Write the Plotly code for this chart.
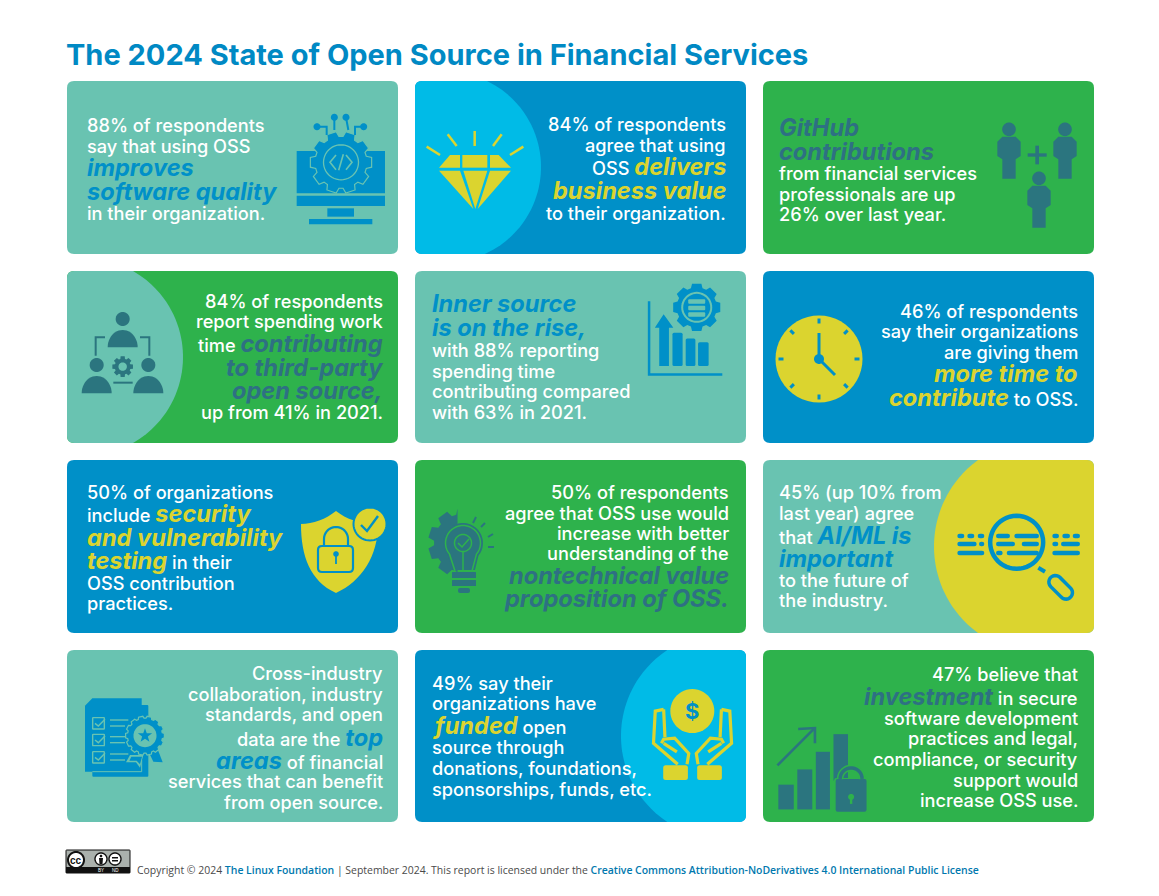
import numpy as np
import plotly.graph_objects as go

W, H = 1159, 896

# ---------- colours ----------
TEAL = "#69C3B1"; BLUE = "#0090C8"; SKY = "#00BBE7"; GREEN = "#2EB24C"
YELLOW = "#DBD42F"; DARK = "#2B757F"; DARKTXT = "#2E7083"; TITLEBLUE = "#0089C4"

# ---------- text ----------
TITLE = "The 2024 State of Open Source in Financial Services"
FOOT_A = "Copyright © 2024 "
FOOT_B = "The Linux Foundation"
FOOT_C = " | September 2024. This report is licensed under the "
FOOT_D = "Creative Commons Attribution-NoDerivatives 4.0 International Public License"

# *...* marks the large bold-italic emphasis on a line
CARD_TEXTS = [
    ["88% of respondents", "say that using OSS", "*improves*", "*software quality*", "in their organization."],
    ["84% of respondents", "agree that using", "OSS *delivers*", "*business value*", "to their organization."],
    ["*GitHub*", "*contributions*", "from financial services", "professionals are up", "26% over last year."],
    ["84% of respondents", "report spending work", "time *contributing*", "*to third-party*", "*open source,*", "up from 41% in 2021."],
    ["*Inner source*", "*is on the rise,*", "with 88% reporting", "spending time", "contributing compared", "with 63% in 2021."],
    ["46% of respondents", "say their organizations", "are giving them", "*more time to*", "*contribute* to OSS."],
    ["50% of organizations", "include *security*", "*and vulnerability*", "*testing* in their", "OSS contribution", "practices."],
    ["50% of respondents", "agree that OSS use would", "increase with better", "understanding of the", "*nontechnical value*", "*proposition of OSS.*"],
    ["45% (up 10% from", "last year) agree", "that *AI/ML is*", "*important*", "to the future of", "the industry."],
    ["Cross-industry", "collaboration, industry", "standards, and open", "data are the *top*", "*areas* of financial", "services that can benefit", "from open source."],
    ["49% say their", "organizations have", "*funded* open", "source through", "donations, foundations,", "sponsorships, funds, etc."],
    ["47% believe that", "*investment* in secure", "software development", "practices and legal,", "compliance, or security", "support would", "increase OSS use."],
]

# ---------- layout (page pixels) ----------
COL_X = [(67, 398), (415, 746), (763, 1094)]
ROW_Y = [(81, 254), (271, 443), (460, 633), (650, 822)]
CARD_BG = [TEAL, BLUE, GREEN, GREEN, TEAL, BLUE, BLUE, GREEN, TEAL, TEAL, BLUE, GREEN]
CARD_EM = [BLUE, YELLOW, DARKTXT, DARKTXT, BLUE, YELLOW, YELLOW, DARKTXT, BLUE, BLUE, YELLOW, DARKTXT]
CARD_ANCHOR = ["left", "right", "left", "right", "left", "right", "left", "right", "left", "right", "left", "right"]
CARD_TX = [86, 726.5, 778, 383.5, 431, 1078.5, 86, 729.5, 778, 383.5, 431, 1078.5]
CARD_LINE_Y = [
    [125, 146, 167, 191, 213], [124, 145, 166, 190, 213], [127, 151, 173, 194, 214],
    [301, 321, 343, 367, 390, 412], [303, 327, 350, 371, 391, 412], [311, 331, 352, 373, 397],
    [492, 513, 537, 560, 583, 603], [492, 513, 533, 553, 575, 598], [492, 513, 535, 558, 580, 600],
    [673, 694, 714, 737, 760, 781, 802], [683, 703, 725, 747, 768, 789], [674, 696, 718, 738, 759, 780, 800],
]
BODY_FONT = "Inter"
BODY_SIZE = 18.2
EM_SIZE = 23.6

shapes = []; annotations = []


def add_path(d, fill=None, line=None, lw=0):
    s = dict(type="path", path=d, xref="x", yref="y", layer="above",
             line=dict(width=lw, color=line if line else "rgba(0,0,0,0)"))
    s["fillcolor"] = fill if fill else "rgba(0,0,0,0)"
    shapes.append(s)


def poly(pts, fill=None, line=None, lw=0, close=True):
    d = "M" + " L".join(f"{x:.2f},{y:.2f}" for x, y in pts) + (" Z" if close else "")
    add_path(d, fill, line, lw)


def rrect(x0, y0, x1, y1, r, fill=None, line=None, lw=0):
    r = min(r, (x1 - x0) / 2, (y1 - y0) / 2)
    d = (f"M{x0+r},{y0} L{x1-r},{y0} Q{x1},{y0} {x1},{y0+r} L{x1},{y1-r} Q{x1},{y1} {x1-r},{y1} "
         f"L{x0+r},{y1} Q{x0},{y1} {x0},{y1-r} L{x0},{y0+r} Q{x0},{y0} {x0+r},{y0} Z")
    add_path(d, fill, line, lw)


def ell(cx, cy, rx, ry=None, fill=None, line=None, lw=0):
    ry = rx if ry is None else ry
    t = np.linspace(0, 2 * np.pi, 49)[:-1]
    poly(list(zip(cx + rx * np.cos(t), cy + ry * np.sin(t))), fill, line, lw)


def seg(pts, color, lw):
    poly(pts, None, color, lw, close=False)


def gear(cx, cy, ro, ri, n, fill=None, line=None, lw=0, a0=0.0, a1=2 * np.pi, phase=0.0):
    pts = []
    step = 2 * np.pi / n
    for k in range(n):
        c = phase + k * step
        for da, rr in [(-0.30, ri), (-0.20, ro), (0.20, ro), (0.30, ri)]:
            a = c + da * step * 1.25
            if a0 <= a % (2 * np.pi) <= a1:
                pts.append((cx + rr * np.cos(a), cy + rr * np.sin(a)))
    poly(pts, fill, line, lw)


def T(ox, oy, sx=1 / 3, sy=1 / 3):
    return lambda *p: [(ox + x * sx, oy + y * sy) for x, y in p]


def card_with_arc(col, row, bg, arc, side, cx, cy, r):
    x0, x1 = COL_X[col]; y0, y1 = ROW_Y[row]
    rrect(x0, y0, x1, y1, 7, fill=bg)
    ys = np.linspace(y0, y1, 40)
    if side == "left":
        xs = cx + np.sqrt(r ** 2 - (ys - cy) ** 2)
        d = f"M{x0+7},{y0} " + " ".join(f"L{x:.2f},{y:.2f}" for x, y in zip(xs, ys))
        d += f" L{x0+7},{y1} Q{x0},{y1} {x0},{y1-7} L{x0},{y0+7} Q{x0},{y0} {x0+7},{y0} Z"
    else:
        xs = cx - np.sqrt(r ** 2 - (ys - cy) ** 2)
        d = f"M{x1-7},{y0} " + " ".join(f"L{x:.2f},{y:.2f}" for x, y in zip(xs, ys))
        d += f" L{x1-7},{y1} Q{x1},{y1} {x1},{y1-7} L{x1},{y0+7} Q{x1},{y0} {x1-7},{y0} Z"
    add_path(d, arc)


# ---------- card backgrounds ----------
ARCS = {1: (SKY, "left", 445.5, 167, 95.5), 3: (TEAL, "left", 84, 357, 99),
        8: (YELLOW, "right", 1041, 546.5, 107), 10: (SKY, "right", 724, 736, 103)}
for i, bg in enumerate(CARD_BG):
    c, rw = i % 3, i // 3
    if i in ARCS:
        a = ARCS[i]
        card_with_arc(c, rw, bg, a[0], a[1], a[2], a[3], a[4])
    else:
        rrect(COL_X[c][0], ROW_Y[rw][0], COL_X[c][1], ROW_Y[rw][1], 7, fill=bg)


# ---------- icons ----------
def icon_monitor():
    t = T(60, 75)
    for a, b, c, d in [(710, 228, 975, 355), (710, 362, 975, 393), (802, 400, 882, 425), (747, 432, 937, 448)]:
        (p, q) = t((a, b), (c, d))
        poly([p, (q[0], p[1]), q, (p[0], q[1])], BLUE)
    cx, cy = t((843, 262))[0]
    gear(cx, cy, 31, 26, 10, fill=BLUE, line=TEAL, lw=1.2, phase=0.0)
    ell(cx, cy, 17.5, line=TEAL, lw=1.3)
    seg(t((828, 240), (810, 262), (828, 284)), TEAL, 1.6)
    seg(t((858, 240), (876, 262), (858, 284)), TEAL, 1.6)
    seg(t((850, 238), (836, 286)), TEAL, 1.6)
    for x, y in [(771, 155), (823, 127), (858, 127), (911, 155)]:
        (p,) = t((x, y)); ell(p[0], p[1], 3.5, fill=BLUE)
    seg(t((771, 155), (800, 155), (800, 180)), BLUE, 2)
    seg(t((823, 127), (823, 165)), BLUE, 2)
    seg(t((858, 127), (865, 165)), BLUE, 2)
    seg(t((911, 155), (885, 155), (885, 180)), BLUE, 2)


def icon_diamond():
    t = T(410, 75)
    for pts in [[(120, 240), (150, 240), (150, 278), (87, 278)],
                [(157, 240), (232, 240), (232, 278), (157, 278)],
                [(240, 240), (266, 240), (303, 278), (240, 278)],
                [(87, 287), (150, 287), (190, 402)],
                [(160, 287), (232, 287), (196, 402)],
                [(240, 287), (303, 287), (203, 402)]]:
        poly(t(*pts), YELLOW)
    for a, b in [((50, 215), (90, 240)), ((113, 178), (140, 213)), ((194, 168), (194, 213)),
                 ((275, 178), (249, 213)), ((340, 215), (300, 240))]:
        seg(t(a, b), YELLOW, 2.5)


def person(t, hx, hy):
    (h,) = t((hx, hy)); ell(h[0], h[1], 6.8, fill=DARK)
    pts = t((hx - 20, hy + 22), (hx + 20, hy + 22), (hx + 35, hy + 37), (hx + 35, hy + 80), (hx + 20, hy + 90),
            (hx + 20, hy + 148), (hx - 20, hy + 148), (hx - 20, hy + 90), (hx - 35, hy + 80), (hx - 35, hy + 37))
    poly(pts, DARK)


def icon_people():
    t = T(755, 75)
    person(t, 762, 163); person(t, 930, 163); person(t, 852, 310)
    (p, q) = t((818, 235), (875, 245)); poly([p, (q[0], p[1]), q, (p[0], q[1])], DARK)
    (p, q) = t((841, 212), (852, 268)); poly([p, (q[0], p[1]), q, (p[0], q[1])], DARK)


def dome(t, cx, base, rx, ry, fill):
    a = np.linspace(np.pi, 2 * np.pi, 25)
    poly(t(*zip(cx + rx * np.cos(a), base + ry * np.sin(a))), fill)


def icon_org():
    t = T(60, 265)
    for hx, hy, base in [(188, 162, 247), (110, 300, 385), (265, 300, 385)]:
        (h,) = t((hx, hy)); ell(h[0], h[1], 7, fill=DARK)
        dome(t, hx, base, 45, 52, DARK)
    seg(t((135, 217), (107, 217), (107, 272)), DARK, 2)
    seg(t((240, 217), (268, 217), (268, 272)), DARK, 2)
    seg(t((160, 353), (218, 353)), DARK, 2)
    (g,) = t((188, 305))
    gear(g[0], g[1], 10.5, 8, 8, fill=DARK)
    ell(g[0], g[1], 4.2, fill=TEAL)


def icon_chart_gear():
    t = T(410, 265, 1 / 2.267, 1 / 2.95)
    seg(t((542, 107), (542, 323), (708, 323)), BLUE, 2.5)
    poly(t((575, 145), (597, 185), (587, 185), (587, 298), (565, 298), (565, 185), (555, 185)), BLUE)
    for a, b, top in [(595, 618, 200), (625, 647, 217), (653, 677, 228)]:
        (p, q) = t((a, top), (b, 298)); rrect(p[0], p[1], q[0], q[1], 1.5, fill=BLUE)
    (g,) = t((650, 125))
    gear(g[0], g[1], 24, 20, 8, fill=BLUE, phase=0.0)
    ell(g[0], g[1], 15.5, fill=TEAL)
    ell(g[0], g[1], 13.5, fill=BLUE)
    for dy in (-8, -1.5, 5):
        rrect(g[0] - 8.5, g[1] + dy, g[0] + 8.5, g[1] + dy + 4.5, 1, fill=TEAL)


def icon_clock():
    cx, cy = 819, 359
    ell(cx, cy, 43.5, fill=YELLOW)
    for k in range(8):
        a = k * np.pi / 4
        r0, r1 = 35.5, 40.5
        seg([(cx + r0 * np.cos(a), cy + r0 * np.sin(a)), (cx + r1 * np.cos(a), cy + r1 * np.sin(a))], BLUE, 3)
    seg([(cx, cy), (cx, cy - 26)], BLUE, 3)
    seg([(cx, cy), (cx + 16, cy + 16)], BLUE, 3)
    ell(cx, cy, 5, fill=BLUE)


def icon_shield():
    add_path("M336,511 C326,519 313,524 301,524 C301,556 310,581 336,593 C362,581 378,556 378,524 C360,524 346,519 336,511 Z", YELLOW)
    ell(370, 524, 16.5, fill=YELLOW, line=BLUE, lw=2)
    seg([(361, 525), (367, 531), (378, 516)], BLUE, 2.4)
    rrect(318, 546, 353, 572, 4, line=BLUE, lw=2.2)
    a = np.linspace(np.pi, 2 * np.pi, 20)
    seg(list(zip(336 + 12 * np.cos(a), 539 + 12 * np.sin(a))) + [(348, 546)], BLUE, 2.2)
    seg([(324, 539), (324, 546)], BLUE, 2.2)
    ell(336, 554, 2.8, fill=BLUE)
    seg([(336, 554), (336, 564)], BLUE, 1.8)


def icon_bulb():
    cx, cy = 463, 543
    gear(cx, cy, 35, 29, 10, fill=DARK, a0=np.pi * 0.48, a1=np.pi * 1.52, phase=np.pi / 2)
    a = np.linspace(np.pi * 0.78, np.pi * 2.22, 30)
    body = list(zip(cx + 20 * np.cos(a), cy + 20 * np.sin(a)))
    poly(body[::-1] + [(453, 570), (475, 570)], DARK)
    poly([(455, 571)] + list(zip(cx + 17.5 * np.cos(a), cy + 17.5 * np.sin(a))) + [(472, 571)], None, GREEN, 1.5, close=False)
    ell(cx, cy, 8.5, line=GREEN, lw=1.5)
    seg([(458, 543), (462, 547), (469, 539)], GREEN, 1.5)
    seg([(463, 552), (463, 572)], GREEN, 1.5)
    rrect(452, 572, 476, 578, 0.5, fill=DARK)
    rrect(452, 580, 476, 586, 0.5, fill=DARK)
    rrect(458, 588, 470, 593, 2, fill=DARK)
    for p, q in [((473, 523), (476, 517)), ((481, 527), (485, 523)), ((488, 537), (493, 534)), ((488, 547), (494, 547))]:
        seg([p, q], DARK, 2)


def icon_magnifier():
    t = T(755, 455)
    (c,) = t((785, 262))
    ell(c[0], c[1], 26.5, line=BLUE, lw=4.5)
    seg(t((850, 338), (870, 350)), BLUE, 4)
    (a,) = t((917, 397))
    ang = np.arctan2(55, 55)
    bx = []
    for s, th0 in [(1, -np.pi / 2), (-1, np.pi / 2)]:
        th = np.linspace(th0, th0 + np.pi, 12) + ang
        bx += list(zip(a[0] + s * 7.5 * np.cos(ang) + 6.5 * np.cos(th), a[1] + s * 7.5 * np.sin(ang) + 6.5 * np.sin(th)))
    poly(bx, None, BLUE, 3.5)
    rows = {243: [(607, 628), (637, 658), (668, 688), (723, 765), (778, 852), (892, 912), (922, 945), (953, 975)],
            267: [(607, 665), (672, 688), (723, 780), (800, 852), (892, 910), (918, 975)],
            294: [(607, 688), (723, 743), (755, 852), (892, 975)]}
    for y, segs in rows.items():
        for x0, x1 in segs:
            (p, q) = t((x0, y - 7), (x1, y + 7))
            rrect(p[0], p[1], q[0], q[1], 2.3, fill=BLUE)


def icon_doc():
    t = T(60, 645)
    (p, q) = t((97, 180), (265, 395)); rrect(p[0], p[1], q[0], q[1], 1, fill=BLUE)
    poly(t((75, 182), (97, 160), (245, 160), (245, 380), (75, 380)), BLUE)
    seg(t((97, 380), (245, 380), (245, 345)), TEAL, 1)
    for y in (235, 285, 337):
        (p, q) = t((98, y - 17), (133, y + 17))
        rrect(p[0], p[1], q[0], q[1], 0.5, line=TEAL, lw=1.4)
        seg(t((105, y), (115, y + 8), (135, y - 12)), TEAL, 1.5)
        seg(t((150, y - 10), (205, y - 10)), TEAL, 1.4)
        seg(t((150, y + 8), (195, y + 8)), TEAL, 1.4)
    poly(t((210, 330), (198, 352), (228, 352), (240, 368), (250, 330)), TEAL)
    poly(t((214, 335), (208, 347), (230, 347), (240, 358), (246, 335)), BLUE)
    poly(t((268, 325), (280, 350), (308, 352), (290, 305)), BLUE)
    (c,) = t((255, 272))
    gear(c[0], c[1], 19.5, 17.5, 14, fill=BLUE, line=TEAL, lw=1.2)
    ell(c[0], c[1], 11.5, fill=TEAL)
    a = np.linspace(-np.pi / 2, 1.5 * np.pi, 11)[:-1]
    rr = np.where(np.arange(10) % 2 == 0, 7.5, 3)
    poly(list(zip(c[0] + rr * np.cos(a), c[1] + rr * np.sin(a))), BLUE)


def icon_hands():
    t = T(410, 645, 1 / 2.267, 1 / 2.95)
    (c,) = t((640, 195))
    ell(c[0], c[1], 22, fill=YELLOW)
    for mirror in (False, True):
        f = (lambda x: 1281 - x) if mirror else (lambda x: x)
        P = lambda *a: t(*[(f(x), y) for x, y in a])
        seg(P((575, 190), (556, 195), (552, 290), (607, 352)), YELLOW, 3.2)
        seg(P((575, 190), (578, 272)), YELLOW, 3.2)
        seg(P((570, 290), (575, 278), (600, 275), (632, 320), (628, 352)), YELLOW, 3.2)
        seg(P((575, 290), (605, 315)), YELLOW, 3.2)
        (p, q) = P((574, 355), (630, 398))
        rrect(min(p[0], q[0]), p[1], max(p[0], q[0]), q[1], 2.5, fill=YELLOW)


def icon_bars_lock():
    t = T(410, 645, 1 / 2.267, 1 / 2.95)
    for a, b, top, bot in [(835, 870, 412, 485), (878, 912, 367, 485), (920, 952, 315, 485), (960, 993, 263, 400)]:
        (p, q) = t((a, top), (b, bot))
        poly([p, (q[0], p[1]), q, (p[0], q[1])], DARK)
    seg(t((833, 355), (915, 248)), DARK, 2.6)
    seg(t((880, 248), (918, 245), (918, 290)), DARK, 2.6)
    (p, q) = t((965, 395), (1035, 492))
    rrect(p[0] - 1.5, p[1] - 1, q[0] + 1.5, q[1] + 1, 2, fill=GREEN)
    rrect(p[0], p[1], q[0], q[1], 2, fill=DARK)
    a = np.linspace(np.pi, 2 * np.pi, 20)
    cx = (p[0] + q[0]) / 2
    arc = list(zip(cx + 11 * np.cos(a), p[1] + 11 * np.sin(a)))
    seg([(cx - 11, p[1])] + arc + [(cx + 11, p[1])], GREEN, 6.5)
    seg([(cx - 11, p[1])] + arc + [(cx + 11, p[1])], DARK, 3.5)
    ell(cx, p[1] + 18, 3, fill=GREEN)
    seg([(cx, p[1] + 18), (cx, p[1] + 25)], GREEN, 2.4)


for fn in (icon_monitor, icon_diamond, icon_people, icon_org, icon_chart_gear, icon_clock, icon_shield,
           icon_bulb, icon_magnifier, icon_doc, icon_hands, icon_bars_lock):
    fn()


# ---------- text ----------
def markup(line, em):
    parts = line.split("*")
    out = ""
    for k, p in enumerate(parts):
        if not p:
            continue
        if k % 2:
            out += f'<span style="font-size:{EM_SIZE}px;color:{em}"><b><i>{p}</i></b></span>'
        else:
            out += p
    return out


for lines, ys, tx, anchor, em in zip(CARD_TEXTS, CARD_LINE_Y, CARD_TX, CARD_ANCHOR, CARD_EM):
    for ln, y in zip(lines, ys):
        annotations.append(dict(x=tx, y=y, xref="x", yref="y", text=markup(ln, em), showarrow=False,
                                xanchor=anchor, yanchor="middle", align=anchor,
                                font=dict(family=BODY_FONT, size=BODY_SIZE, color="white", weight=500),
                                borderpad=0))

annotations.append(dict(x=64.5, y=54, xref="x", yref="y", text=f"<b>{TITLE}</b>", showarrow=False, xanchor="left",
                        yanchor="middle", font=dict(family=BODY_FONT, size=29, color=TITLEBLUE), borderpad=0))

foot = (f'{FOOT_A}<span style="color:#0078AE;font-weight:600">{FOOT_B}</span>{FOOT_C}'
        f'<span style="color:#0078AE;font-weight:600">{FOOT_D}</span>')
annotations.append(dict(x=135.5, y=870, xref="x", yref="y", text=foot, showarrow=False, xanchor="left", yanchor="middle",
                        font=dict(family="Open Sans", size=10.45, color="#4A4A4A"), borderpad=0))

# ---------- licence badge ----------
rrect(66, 850, 130, 873, 0.5, fill="#AAB1AD", line="#111111", lw=1)
poly([(66, 867), (130, 867), (130, 873), (66, 873)], "#111111")
ell(76, 860, 8, fill="white", line="#111111", lw=2)
ell(101, 859, 6, fill="white", line="#111111", lw=1.4)
ell(115, 859, 6, fill="white", line="#111111", lw=1.4)
ell(101, 856, 1.3, fill="#111111")
poly([(99, 858), (103, 858), (102.5, 864), (99.5, 864)], "#111111")
poly([(112, 857), (118, 857), (118, 858.5), (112, 858.5)], "#111111")
poly([(112, 860), (118, 860), (118, 861.5), (112, 861.5)], "#111111")
for x, y, s, c, sz in [(76, 860, "<b>cc</b>", "#111111", 10), (101, 870.2, "BY", "white", 4.5), (115, 870.2, "ND", "white", 4.5)]:
    annotations.append(dict(x=x, y=y, xref="x", yref="y", text=s, showarrow=False, xanchor="center", yanchor="middle",
                            font=dict(family="Liberation Sans", size=sz, color=c), borderpad=0))

# "$" on the coin
annotations.append(dict(x=692, y=711, xref="x", yref="y", text="<b>$</b>", showarrow=False, xanchor="center",
                        yanchor="middle", font=dict(family="Inter", size=22, color=BLUE), borderpad=0))

fig = go.Figure()
fig.update_layout(width=W, height=H, margin=dict(l=0, r=0, t=0, b=0), paper_bgcolor="white", plot_bgcolor="white",
                  xaxis=dict(range=[0, W], visible=False, fixedrange=True),
                  yaxis=dict(range=[H, 0], visible=False, fixedrange=True),
                  shapes=shapes, annotations=annotations, showlegend=False)
fig.write_html("out.html", config=dict(displayModeBar=False),
               post_script="document.body.style.margin='0';document.documentElement.style.overflow='hidden';")
